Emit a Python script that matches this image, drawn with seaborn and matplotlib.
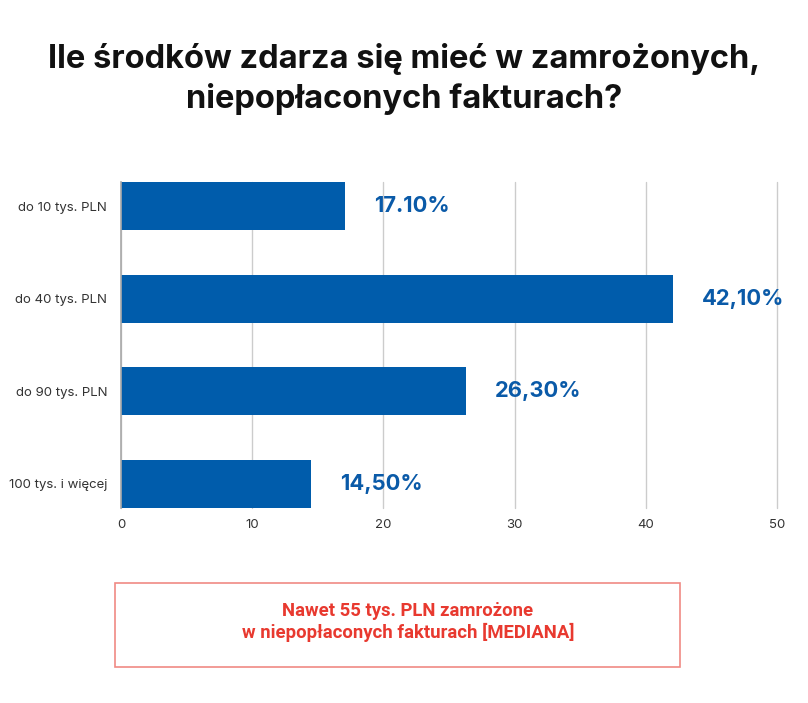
import matplotlib
matplotlib.use("Agg")
import matplotlib.pyplot as plt
import seaborn as sns
import pandas as pd
from matplotlib.patches import Rectangle

categories = ["do 10 tys. PLN", "do 40 tys. PLN", "do 90 tys. PLN", "100 tys. i więcej"]
values = [17.10, 42.10, 26.30, 14.50]
value_labels = ["17.10%", "42,10%", "26,30%", "14,50%"]
x_ticks = [0, 10, 20, 30, 40, 50]
title = "Ile środków zdarza się mieć w zamrożonych,\nniepopłaconych fakturach?"
note = "Nawet 55 tys. PLN zamrożone\nw niepopłaconych fakturach [MEDIANA]"

df = pd.DataFrame({"kategoria": categories, "wartosc": values})

sns.set_theme(style="white")
plt.rcParams["font.family"] = ["Inter", "DejaVu Sans"]

fig = plt.figure(figsize=(8.08, 7.03), dpi=100)
W, H = 808, 703
ax = fig.add_axes([121 / W, 1 - 508 / H, (777 - 121) / W, (508 - 182) / H])

blue = "#005CAB"
sns.barplot(data=df, y="kategoria", x="wartosc", orient="h", color=blue,
            width=0.52, saturation=1, linewidth=0, ax=ax, zorder=3)

ax.set_xlim(0, 50)
ax.set_ylim(3.26, -0.26)
ax.set_xticks(x_ticks)
ax.set_xticklabels([str(t) for t in x_ticks])
ax.xaxis.grid(True, color="#cccccc", linewidth=1, zorder=0)
for gl in ax.get_xgridlines():
    gl.set_clip_on(False)
ax.yaxis.grid(False)
for s in ["top", "right", "bottom"]:
    ax.spines[s].set_visible(False)
ax.spines["left"].set_color("#aaaaaa")
ax.spines["left"].set_linewidth(1.2)
ax.spines["left"].set_zorder(5)
ax.set_xlabel("")
ax.set_ylabel("")
ax.tick_params(axis="both", length=0, labelsize=9.5, colors="#333333")
ax.tick_params(axis="x", pad=8)
ax.tick_params(axis="y", pad=10)

for i, (v, lab) in enumerate(zip(values, value_labels)):
    ax.text(v + 2.2, i, lab, va="center", ha="left", color="#0A5AA8",
            fontsize=15.8, fontweight="bold", zorder=4)

fig.text(0.5, 1 - 79 / H, title, ha="center", va="center", fontsize=23.5,
         fontweight="bold", color="#111111", linespacing=1.3)

rect = Rectangle((115 / W, 1 - 667 / H), (680 - 115) / W, (667 - 583) / H,
                 transform=fig.transFigure, fill=False, edgecolor="#F08A84",
                 linewidth=1.2)
fig.add_artist(rect)
fig.text(408 / W, 1 - 622 / H, note, ha="center", va="center", fontsize=13.3,
         fontweight="bold", color="#E8392F", family=["Roboto", "DejaVu Sans"],
         linespacing=1.2)

fig.savefig("out.png", dpi=100, facecolor="white")
